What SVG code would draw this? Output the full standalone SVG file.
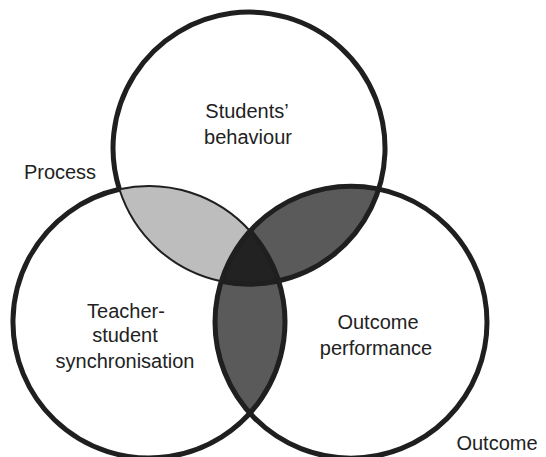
<svg xmlns="http://www.w3.org/2000/svg" width="546" height="457" viewBox="0 0 546 457">
<style>
.lbl{font-family:"Liberation Sans",Arial,sans-serif;font-size:20px;fill:#222;text-anchor:middle}
.thick{fill:none;stroke:#1f1f1f;stroke-width:5}
.thin{fill:none;stroke:#1f1f1f;stroke-width:2}
</style>
<rect width="546" height="457" fill="#fff"/>
<g id="regions">
<!-- light: top∩left minus right -->
<path id="light-lens" d="M119.4,189.3 A136,136 0 0 1 250,231 A136,136 0 0 0 220,281 A136,136 0 0 1 119.4,189.3 Z" fill="#bdbdbd"/>
<!-- dark: top∩right minus left -->
<path id="dark-top" d="M250,231 A136,136 0 0 1 378.6,189.3 A136,136 0 0 1 278.6,280.7 A136,136 0 0 0 250,231 Z" fill="#5a5a5a"/>
<!-- dark: left∩right minus top -->
<path id="dark-bottom" d="M220,281 A136,136 0 0 0 250,413.3 A136,136 0 0 0 278.6,280.7 A136,136 0 0 1 220,281 Z" fill="#5a5a5a"/>
<!-- center -->
<path id="center" d="M250,231 A136,136 0 0 1 278.6,280.7 A136,136 0 0 1 220,281 A136,136 0 0 1 250,231 Z" fill="#222"/>
</g>
<g id="node-top">
<path class="thick" d="M119.4,189.3 A136,136 0 1 1 220,281"/>
<path class="thin" d="M220,281 A136,136 0 0 1 119.4,189.3"/>
<text class="lbl" x="247" y="118">Students’</text>
<text class="lbl" x="248" y="144">behaviour</text>
</g>
<g id="node-left">
<path class="thick" d="M250,231 A136,136 0 1 1 119.4,189.3"/>
<path class="thin" d="M119.4,189.3 A136,136 0 0 1 250,231"/>
<text class="lbl" x="126" y="318">Teacher-</text>
<text class="lbl" x="125" y="342">student</text>
<text class="lbl" x="125" y="368">synchronisation</text>
</g>
<g id="node-right">
<circle class="thick" cx="351" cy="322.2" r="136"/>
<text class="lbl" x="378" y="329">Outcome</text>
<text class="lbl" x="376" y="355">performance</text>
</g>
<g id="labels">
<text class="lbl" x="60" y="179">Process</text>
<text class="lbl" x="497" y="450">Outcome</text>
</g>
</svg>
